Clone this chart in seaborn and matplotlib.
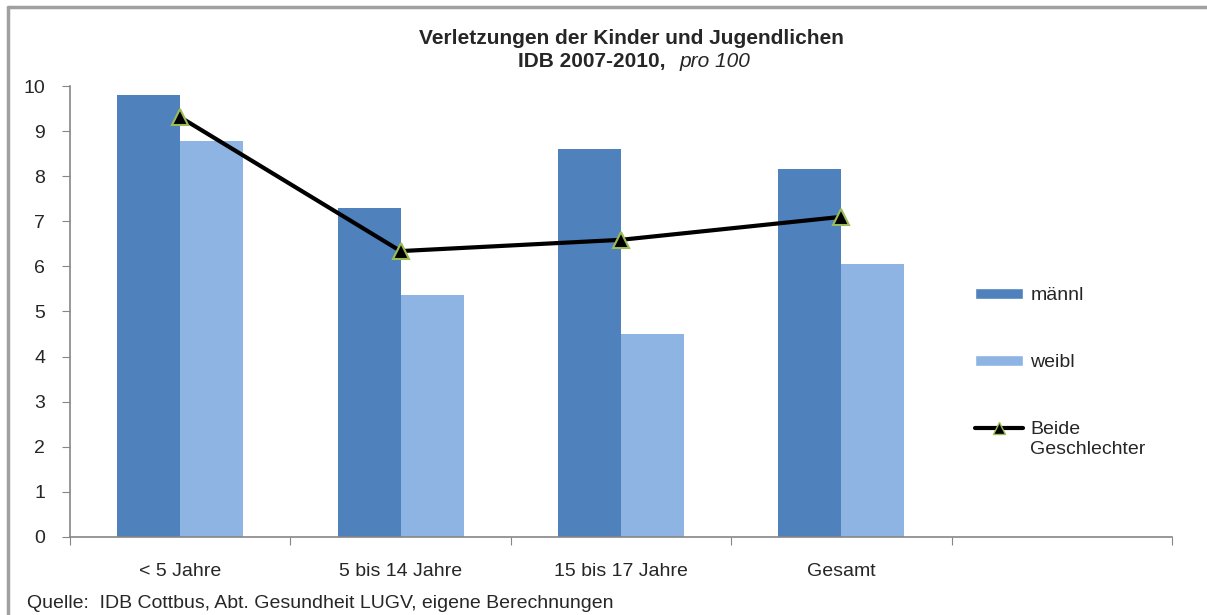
import numpy as np
import pandas as pd
import seaborn as sns
import matplotlib.pyplot as plt
from matplotlib.patches import Patch
from matplotlib.lines import Line2D

# data (per 100)
categories = ['< 5 Jahre', '5 bis 14 Jahre', '15 bis 17 Jahre', 'Gesamt']
maennl = [9.80, 7.29, 8.60, 8.15]
weibl = [8.78, 5.37, 4.50, 6.05]
beide = [9.31, 6.34, 6.59, 7.10]

c_m = '#4F81BD'
c_w = '#8EB4E3'
spine_col = '#868686'

sns.set_style('white')
plt.rcParams['font.family'] = ['Liberation Sans', 'DejaVu Sans']

df = pd.DataFrame({
    'Kategorie': categories * 2,
    'Wert': maennl + weibl,
    'Geschlecht': ['männl'] * len(categories) + ['weibl'] * len(categories),
})

fig = plt.figure(figsize=(12.07, 6.15), dpi=100)
ax = fig.add_axes([0.058, 0.127, 0.913, 0.733])

sns.barplot(data=df, x='Kategorie', y='Wert', hue='Geschlecht', order=categories,
            palette=[c_m, c_w], width=0.572, gap=0, saturation=1, ax=ax,
            legend=False, errorbar=None, linewidth=0)

ax.plot(np.arange(len(categories)), beide, color='black', lw=3, zorder=5,
        marker='^', markersize=12, markerfacecolor='black',
        markeredgecolor='#9BBB59', markeredgewidth=1.5)

ax.set_xlim(-0.5, 4.5)
ax.set_ylim(0, 10)
ax.set_xlabel('')
ax.set_ylabel('')

# tick marks between categories, labels at centers
ax.set_xticks(np.arange(-0.5, 5.0, 1.0))
ax.set_xticklabels([])
ax.set_xticks(np.arange(len(categories)), minor=True)
ax.set_xticklabels(categories, minor=True, fontsize=14)
ax.tick_params(axis='x', which='major', length=6, color=spine_col, direction='out', bottom=True)
ax.tick_params(axis='x', which='minor', length=0, pad=19)
ax.set_yticks(range(0, 11))
ax.tick_params(axis='y', length=6, color=spine_col, direction='out', left=True, labelsize=14, pad=12)

for s in ['top', 'right']:
    ax.spines[s].set_visible(False)
for s in ['left', 'bottom']:
    ax.spines[s].set_color(spine_col)
    ax.spines[s].set_linewidth(1.2)

# title
fig.text(0.523, 0.938, 'Verletzungen der Kinder und Jugendlichen', ha='center', va='center',
         fontsize=15, fontweight='bold')
fig.text(0.551, 0.900, 'IDB 2007-2010,', ha='right', va='center', fontsize=15, fontweight='bold')
fig.text(0.563, 0.900, 'pro 100', ha='left', va='center', fontsize=15, style='italic')

# legend
handles = [Patch(facecolor=c_m), Patch(facecolor=c_w),
           Line2D([], [], color='black', lw=3, marker='^', markersize=9,
                  markerfacecolor='black', markeredgecolor='#9BBB59')]
leg = fig.legend(handles, ['männl', 'weibl', 'Beide'], loc='upper left',
                 bbox_to_anchor=(0.793, 0.561), frameon=False, fontsize=14,
                 handlelength=2.5, handleheight=0.55, handletextpad=0.36, labelspacing=2.57)

# second line of the last legend label, placed under "Beide"
fig.canvas.draw()
bb = leg.get_texts()[2].get_window_extent().transformed(fig.transFigure.inverted())
fig.text(bb.x0, bb.y0 - 0.004, 'Geschlechter', ha='left', va='top', fontsize=14)

# source
fig.text(0.022, 0.018, 'Quelle:  IDB Cottbus, Abt. Gesundheit LUGV, eigene Berechnungen',
         ha='left', va='center', fontsize=14)

# outer frame (top and left)
fig.add_artist(Line2D([0.007, 1.0], [0.989, 0.989], color='#A0A0A0', lw=2.5))
fig.add_artist(Line2D([0.007, 0.007], [0.0, 0.989], color='#A0A0A0', lw=2.5))

fig.savefig('out.png', dpi=100)
